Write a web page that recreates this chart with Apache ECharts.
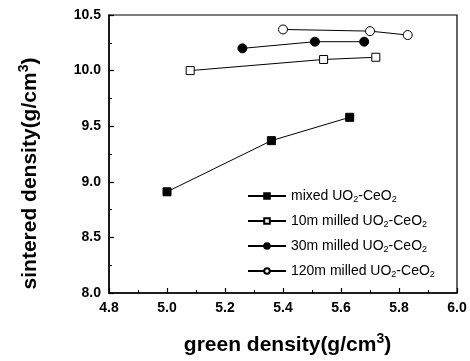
<!DOCTYPE html>
<html><head><meta charset="utf-8">
<script src="https://cdn.jsdelivr.net/npm/echarts@6/dist/echarts.min.js"></script>
<style>html,body{margin:0;padding:0;background:#fff}#c{width:470px;height:361px}</style>
</head><body><div id="c"></div>
<script>
const seriesNames = ['mixed UO2-CeO2','10m milled UO2-CeO2','30m milled UO2-CeO2','120m milled UO2-CeO2'];
const mixedX = [5.00, 5.36, 5.63];
const mixedY = [8.91, 9.37, 9.58];
const m10X = [5.08, 5.54, 5.72];
const m10Y = [10.00, 10.10, 10.12];
const m30X = [5.26, 5.51, 5.68];
const m30Y = [10.20, 10.26, 10.26];
const m120X = [5.40, 5.70, 5.83];
const m120Y = [10.37, 10.355, 10.32];
const xTicks = [4.8, 5.0, 5.2, 5.4, 5.6, 5.8, 6.0];
const yTicks = [8.0, 8.5, 9.0, 9.5, 10.0, 10.5];

const zip = (a,b)=>a.map((v,i)=>[v,b[i]]);
const styles = [
  {symbol:'rect', size:8, fill:'#000'},
  {symbol:'rect', size:8, fill:'#fff'},
  {symbol:'circle', size:9, fill:'#000'},
  {symbol:'circle', size:9, fill:'#fff'}
];
const datas = [zip(mixedX,mixedY), zip(m10X,m10Y), zip(m30X,m30Y), zip(m120X,m120Y)];
const font = 'Liberation Sans, Arial, sans-serif';

const chart = echarts.init(document.getElementById('c'), null, {renderer:'canvas'});
chart.setOption({
  animation:false,
  grid:{left:109, top:15, right:13, bottom:68, show:true, borderColor:'#000', borderWidth:1.2, backgroundColor:'transparent'},
  xAxis:{
    type:'value', min:xTicks[0], max:xTicks[xTicks.length-1], interval:0.2,
    axisLine:{show:true, onZero:false, lineStyle:{color:'#000', width:1.5}},
    axisTick:{show:true, inside:true, length:5, lineStyle:{color:'#000', width:1.2}},
    minorTick:{show:true, splitNumber:2, length:3, lineStyle:{color:'#000'}},
    splitLine:{show:false},
    axisLabel:{color:'#000', fontFamily:font, fontSize:14, fontWeight:'bold', margin:8, formatter:v=>v.toFixed(1)},
    name:'green density(g/cm{sup|3})', nameLocation:'middle', nameGap:39,
    nameTextStyle:{color:'#000', fontFamily:font, fontSize:21, fontWeight:'bold', padding:[0,0,0,9],
      rich:{sup:{fontSize:14, fontWeight:'bold', fontFamily:font, color:'#000', padding:[0,0,12,0]}}}
  },
  yAxis:{
    type:'value', min:yTicks[0], max:yTicks[yTicks.length-1], interval:0.5,
    axisLine:{show:true, onZero:false, lineStyle:{color:'#000', width:1.5}},
    axisTick:{show:true, inside:true, length:5, lineStyle:{color:'#000', width:1.2}},
    minorTick:{show:true, splitNumber:2, length:3, lineStyle:{color:'#000'}},
    splitLine:{show:false},
    axisLabel:{color:'#000', fontFamily:font, fontSize:14, fontWeight:'bold', margin:8, formatter:v=>v.toFixed(1)},
    name:'sintered density(g/cm{sup|3})', nameLocation:'middle', nameGap:66, nameRotate:90,
    nameTextStyle:{color:'#000', fontFamily:font, fontSize:21, fontWeight:'bold', padding:[0,39,0,0],
      rich:{sup:{fontSize:14, fontWeight:'bold', fontFamily:font, color:'#000', padding:[0,0,12,0]}}}
  },
  legend:{
    orient:'vertical', left:242, top:184, itemGap:10, itemWidth:38, itemHeight:7,
    data:seriesNames,
    formatter:n=>{
      const parts = n.split('UO2-CeO2');
      return '{a|'+parts[0]+'UO}{s|2}{a|-CeO}{s|2}';
    },
    textStyle:{color:'#000', fontFamily:font, fontSize:14,
      rich:{a:{fontSize:14, fontFamily:font, color:'#000'}, s:{fontSize:9, fontFamily:font, color:'#000', padding:[7,0,0,0]}}}
  },
  series: datas.map((d,i)=>({
    name:seriesNames[i], type:'line', data:d,
    symbol:styles[i].symbol, symbolSize:styles[i].size, showAllSymbol:true,
    lineStyle:{color:'#000', width:1},
    itemStyle:{color:styles[i].fill, borderColor:'#000', borderWidth:1},
    emphasis:{disabled:true}
  }))
});
</script></body></html>
